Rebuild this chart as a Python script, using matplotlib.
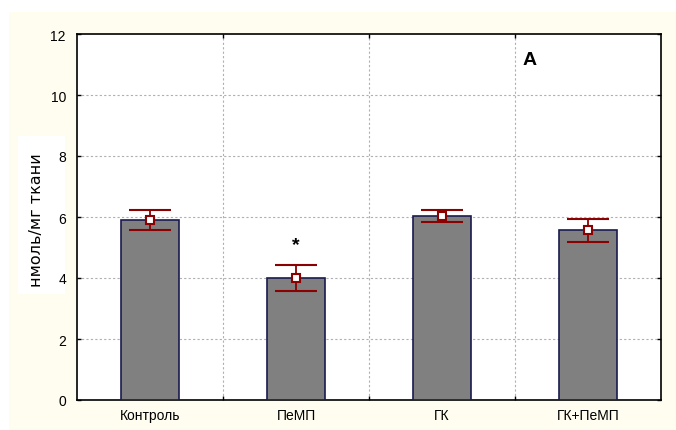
import matplotlib
matplotlib.use("Agg")
import matplotlib.pyplot as plt
from matplotlib.patches import Rectangle

# Data
categories = ["Контроль", "ПеМП", "ГК", "ГК+ПеМП"]
means = [5.90, 4.00, 6.03, 5.57]
errors = [0.33, 0.43, 0.20, 0.38]
star_group = "ПеМП"
star_y = 5.1

plt.rcParams['font.family'] = ['Liberation Sans', 'DejaVu Sans']

W, H = 676, 431
fig = plt.figure(figsize=(W / 100, H / 100), dpi=100, facecolor="white")

# cream panel behind the chart
fig.patches.append(Rectangle((9 / W, 0), 1 - 9 / W, 1 - 13 / H,
                             transform=fig.transFigure, facecolor="#fffdf0",
                             edgecolor="none", zorder=-10))
# white box behind the y label
fig.patches.append(Rectangle((18 / W, 1 - 295 / H), 47 / W, 158 / H,
                             transform=fig.transFigure, facecolor="white",
                             edgecolor="none", zorder=-5))

ax = fig.add_axes([77 / W, 1 - 401 / H, (661 - 77) / W, (401 - 35) / H])
ax.set_facecolor("white")

x = list(range(len(categories)))
ax.bar(x, means, width=0.4, color="#808080", edgecolor="#1a1a50", linewidth=1.2, zorder=3)
ax.errorbar(x, means, yerr=errors, fmt="s", color="#8b0000", mfc="white", mec="#8b0000",
            ms=6, mew=1.5, ecolor="#8b0000", elinewidth=1.3, capsize=15, capthick=1.3, zorder=4)

ax.text(categories.index(star_group), star_y, "*", ha="center", va="center",
        fontsize=14, fontweight="bold")
ax.text(2.6, 11.18, "A", fontsize=14, fontweight="bold", ha="center", va="center")

ax.set_xlim(-0.5, 3.5)
ax.set_ylim(0, 12)
ax.set_xticks(x)
ax.set_xticklabels(categories, fontsize=10)
ax.set_xticks([0.5, 1.5, 2.5], minor=True)
ax.set_yticks(range(0, 13, 2))
ax.tick_params(axis="y", labelsize=10, left=True, right=True, direction="in",
               length=3, width=1, pad=8)
ax.tick_params(axis="x", which="major", length=0, pad=6)
ax.tick_params(axis="x", which="minor", top=True, bottom=True, direction="in",
               length=3, width=1)

for yv in range(2, 12, 2):
    ax.axhline(yv, color="#b0b0b0", linestyle=(0, (2, 2)), linewidth=0.8, zorder=1)
for xv in [0.5, 1.5, 2.5]:
    ax.axvline(xv, color="#b0b0b0", linestyle=(0, (2, 2)), linewidth=0.8, zorder=1)

for s in ax.spines.values():
    s.set_linewidth(1.2)
    s.set_color("black")

fig.text(37 / W, 1 - 220 / H, "нмоль/мг ткани", rotation=90, ha="center", va="center",
         fontsize=11.5, family=["DejaVu Sans"])

fig.savefig("out.png", dpi=100, facecolor=fig.get_facecolor())
